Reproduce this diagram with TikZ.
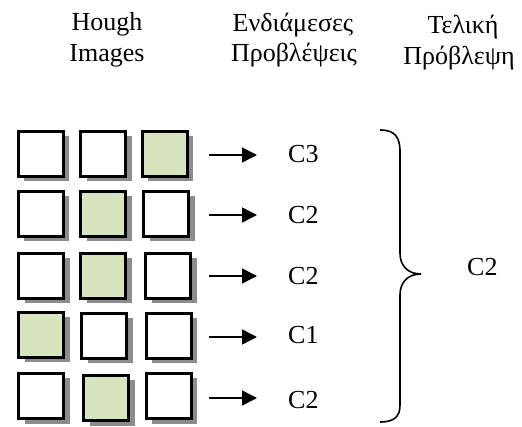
\documentclass[tikz,border=0pt]{standalone}
\usepackage{fontspec}
\setmainfont{Liberation Serif}
\usetikzlibrary{shadows,arrows.meta}
\definecolor{imggreen}{HTML}{D7E4BD}
\tikzset{
  img/.style={draw=black, line width=3pt, fill=white, minimum size=45pt,
    inner sep=0pt, outer sep=0pt,
    drop shadow={shadow xshift=6pt, shadow yshift=-5pt, fill=gray!90, opacity=1}},
  hit/.style={img, fill=imggreen},
  txt/.style={font=\fontsize{26}{31}\selectfont, inner sep=0pt, anchor=base},
  lbl/.style={txt, anchor=base west},
  arr/.style={line width=1.4pt, -{Triangle[length=15pt,width=15pt]}},
  brace/.style={line width=1.6pt}
}
\begin{document}
\begin{tikzpicture}[x=1pt,y=-1pt]
\useasboundingbox (0,0) rectangle (522,427);

% column headings
\node[txt] (h1a) at (107,31) {Hough};
\node[txt] (h1b) at (107,62) {Images};
\node[txt] (h2a) at (293,32) {Ενδιάμεσες};
\node[txt] (h2b) at (294,62) {Προβλέψεις};
\node[txt] (h3a) at (463,34) {Τελική};
\node[txt] (h3b) at (459,65) {Πρόβλεψη};

% image grid (one row per sample)
\node[img] (r1c1) at (40.5,154) {};
\node[img] (r1c2) at (103,154) {};
\node[hit] (r1c3) at (164.5,154) {};

\node[img] (r2c1) at (40.5,214) {};
\node[hit] (r2c2) at (103,214) {};
\node[img] (r2c3) at (166,214) {};

\node[img] (r3c1) at (41,276) {};
\node[hit] (r3c2) at (103,276) {};
\node[img] (r3c3) at (168,276) {};

\node[hit] (r4c1) at (41,335) {};
\node[img] (r4c2) at (104,336) {};
\node[img] (r4c3) at (168.5,336) {};

\node[img] (r5c1) at (41,396) {};
\node[hit] (r5c2) at (106,398) {};
\node[img] (r5c3) at (168.5,396) {};

% intermediate predictions
\node[lbl] (p1) at (288,163) {C3};
\node[lbl] (p2) at (288,224) {C2};
\node[lbl] (p3) at (288,285) {C2};
\node[lbl] (p4) at (288,344) {C1};
\node[lbl] (p5) at (288,408) {C2};

% arrows
\coordinate (s1) at (209,155); \coordinate (e1) at (257,155);
\coordinate (s2) at (209,215); \coordinate (e2) at (257,215);
\coordinate (s3) at (209,276); \coordinate (e3) at (257,276);
\coordinate (s4) at (209,337); \coordinate (e4) at (257,337);
\coordinate (s5) at (209,398); \coordinate (e5) at (257,398);
\draw[arr] (s1) -- (e1);
\draw[arr] (s2) -- (e2);
\draw[arr] (s3) -- (e3);
\draw[arr] (s4) -- (e4);
\draw[arr] (s5) -- (e5);

% brace
\draw[brace] (380,130) .. controls (395,130) and (400,137) .. (400,152)
  -- (400,253) .. controls (400,266) and (408,274) .. (421,274)
  .. controls (408,274) and (400,282) .. (400,295)
  -- (400,405) .. controls (400,416) and (395,422) .. (380,422);

% final prediction
\node[lbl] (fin) at (467,276) {C2};
\end{tikzpicture}
\end{document}
